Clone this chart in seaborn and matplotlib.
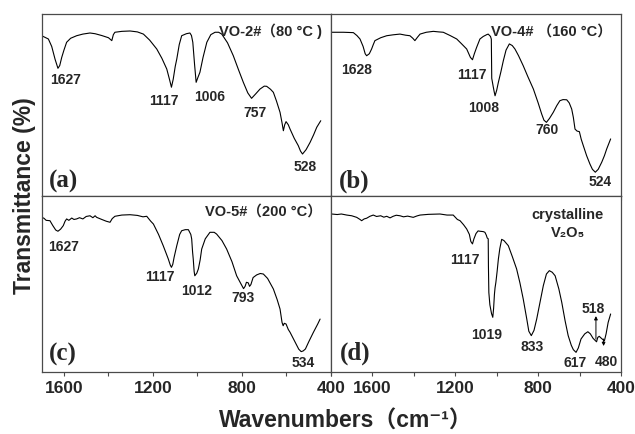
import matplotlib
matplotlib.use("Agg")
import matplotlib.pyplot as plt
import pandas as pd
import seaborn as sns

# ---------------- FTIR spectra (wavenumber in cm-1, transmittance in a.u.) ----------------
wn_a = [1700, 1685, 1670, 1655, 1640, 1627, 1619, 1610, 1600, 1588, 1570, 1543, 1515, 1483,
        1460, 1430, 1400, 1385, 1378, 1371, 1340, 1303, 1270, 1243, 1215, 1183, 1160, 1138,
        1126, 1117, 1109, 1100, 1093, 1082, 1071, 1050, 1034, 1027, 1021, 1013, 1006, 998,
        989, 975, 958, 940, 921, 905, 891, 865, 839, 815, 794, 774, 757, 738, 719, 700, 689,
        672, 659, 645, 629, 620, 614, 608, 602, 592, 584, 565, 547, 537, 528, 512, 494, 478,
        464, 446]
t_a = [87.9, 87.0, 86.1, 82.0, 75.0, 70.0, 71.5, 76.0, 80.0, 84.3, 86.5, 87.9, 88.8, 89.4,
       89.0, 88.0, 86.8, 85.2, 88.5, 89.8, 90.3, 90.5, 90.0, 88.8, 85.5, 80.6, 75.5, 69.6,
       64.0, 59.6, 64.0, 71.0, 75.1, 83.0, 87.9, 89.0, 89.4, 88.0, 84.3, 72.0, 62.3, 65.0,
       67.8, 76.0, 84.3, 88.5, 89.8, 89.8, 88.8, 84.0, 76.9, 69.0, 62.3, 56.5, 53.5, 56.0,
       58.6, 60.2, 60.1, 58.5, 56.8, 52.0, 45.8, 40.0, 35.7, 39.0, 40.7, 39.0, 36.6, 31.5,
       27.5, 24.5, 22.9, 25.3, 29.3, 33.5, 37.6, 41.2]

wn_b = [1797, 1740, 1692, 1675, 1660, 1645, 1635, 1628, 1615, 1604, 1596, 1588, 1560, 1531,
        1500, 1467, 1440, 1419, 1405, 1395, 1383, 1370, 1340, 1306, 1280, 1258, 1225, 1193,
        1170, 1145, 1127, 1117, 1108, 1097, 1081, 1065, 1048, 1041, 1030, 1026, 1024, 1017,
        1012, 1008, 1000, 992, 980, 968, 955, 939, 925, 912, 895, 872, 850, 823, 800, 783,
        772, 760, 745, 727, 710, 695, 680, 662, 650, 638, 630, 622, 612, 601, 592, 582, 566,
        550, 538, 524, 510, 493, 480, 469, 450]
t_b = [89.8, 89.8, 89.6, 88.0, 86.1, 82.0, 78.0, 76.9, 78.0, 80.6, 83.0, 85.2, 86.8, 87.9,
       88.4, 88.8, 88.2, 87.9, 86.5, 85.2, 87.0, 88.8, 89.8, 90.3, 90.0, 89.8, 88.0, 86.1,
       83.5, 80.6, 76.0, 74.7, 78.0, 81.5, 86.1, 87.5, 88.5, 88.8, 87.5, 86.0, 64.5, 60.0,
       57.0, 54.9, 58.0, 62.3, 68.0, 74.2, 80.0, 83.4, 82.5, 80.6, 77.0, 71.4, 65.5, 58.6,
       51.0, 44.9, 41.5, 40.3, 42.5, 45.8, 49.5, 52.2, 52.8, 52.7, 51.0, 47.6, 43.0, 36.6,
       35.5, 35.2, 31.0, 27.5, 22.0, 17.4, 14.5, 12.9, 14.5, 18.4, 22.0, 25.7, 31.2]

wn_c = [1700, 1690, 1680, 1663, 1650, 1637, 1627, 1615, 1603, 1595, 1588, 1578, 1565, 1555,
        1543, 1530, 1515, 1500, 1483, 1470, 1460, 1453, 1430, 1410, 1393, 1383, 1371, 1340,
        1303, 1270, 1245, 1228, 1210, 1198, 1175, 1154, 1140, 1131, 1122, 1117, 1111, 1105,
        1093, 1080, 1071, 1055, 1041, 1030, 1026, 1022, 1019, 1015, 1012, 1003, 996, 988,
        981, 965, 944, 925, 914, 890, 869, 845, 824, 805, 793, 786, 780, 772, 766, 760, 750,
        734, 718, 704, 685, 659, 642, 629, 620, 615, 610, 602, 592, 584, 560, 545, 534, 525,
        515, 500, 479, 460, 449]
t_c = [87.7, 87.2, 86.0, 85.8, 83.0, 80.5, 79.8, 81.0, 83.0, 85.5, 86.8, 86.0, 87.3, 86.5,
       86.8, 87.5, 86.8, 88.2, 88.6, 87.5, 88.6, 87.7, 86.5, 85.5, 84.9, 87.0, 88.3, 89.0,
       89.2, 88.8, 88.0, 88.3, 85.5, 83.9, 78.0, 71.6, 67.0, 64.0, 60.5, 59.3, 61.0, 65.0,
       71.6, 78.0, 80.1, 80.7, 80.7, 78.0, 75.4, 68.0, 64.0, 57.0, 54.5, 56.0, 58.4, 63.5,
       69.7, 75.5, 79.2, 79.2, 78.2, 74.5, 69.7, 62.5, 54.5, 50.0, 47.2, 48.5, 50.8, 50.5,
       48.5, 49.5, 53.5, 55.0, 55.8, 55.5, 53.0, 47.0, 41.0, 35.6, 28.0, 26.1, 27.5, 27.1,
       24.0, 22.4, 16.5, 12.8, 11.4, 11.8, 12.9, 17.0, 22.4, 27.0, 29.9]

wn_d = [1797, 1770, 1750, 1724, 1700, 1676, 1660, 1652, 1640, 1628, 1612, 1596, 1580, 1560,
        1545, 1531, 1515, 1500, 1485, 1467, 1450, 1430, 1403, 1385, 1370, 1330, 1274, 1240,
        1210, 1190, 1177, 1160, 1145, 1132, 1125, 1117, 1110, 1100, 1090, 1081, 1065, 1057,
        1050, 1046, 1041, 1040, 1038, 1033, 1025, 1019, 1015, 1011, 1008, 1004, 998, 992,
        985, 976, 965, 944, 925, 904, 888, 872, 855, 845, 833, 820, 807, 790, 775, 760, 746,
        732, 718, 700, 686, 670, 655, 640, 630, 617, 606, 593, 575, 560, 548, 535, 525, 518,
        512, 505, 495, 487, 480, 472, 462, 450]
t_d = [89.6, 89.3, 89.6, 89.0, 88.6, 87.7, 86.5, 85.8, 86.8, 87.2, 88.3, 89.0, 88.2, 88.6,
       87.8, 88.3, 87.4, 88.3, 88.9, 88.6, 88.0, 88.4, 87.7, 88.5, 89.0, 89.4, 89.6, 89.0,
       89.0, 86.5, 85.8, 83.5, 81.1, 78.0, 74.0, 72.6, 75.5, 78.5, 80.0, 79.8, 79.6, 79.2,
       77.5, 76.0, 75.5, 60.0, 45.0, 38.0, 33.0, 30.9, 36.0, 44.0, 47.7, 50.8, 57.0, 64.0,
       70.0, 75.2, 74.5, 71.6, 65.5, 58.4, 50.5, 41.3, 30.0, 23.0, 20.5, 23.5, 29.9, 40.0,
       48.9, 55.5, 57.4, 56.5, 54.5, 47.0, 39.4, 29.0, 20.5, 15.0, 12.5, 11.0, 13.5, 18.6,
       21.5, 22.7, 21.5, 19.0, 17.8, 17.0, 19.5, 20.1, 19.0, 18.2, 17.6, 21.5, 28.0, 32.8]

# labelled band positions (cm-1)
peaks_a = [1627, 1117, 1006, 757, 528]
peaks_b = [1628, 1117, 1008, 760, 524]
peaks_c = [1627, 1117, 1012, 793, 534]
peaks_d = [1117, 1019, 833, 617, 518, 480]

titles = ["VO-2#（80 °C )", "VO-4# （160 °C）", "VO-5#（200 °C）", "crystalline\nV₂O₅"]
letters = ["(a)", "(b)", "(c)", "(d)"]
xticks_major = [1600, 1200, 800, 400]

# ---------------- layout ----------------
W, H = 635, 435
left_x0, left_x1, right_x1 = 41.7, 331.0, 621.0
top_y0, mid_y, bot_y1 = 14.7, 196.7, 372.7

panels = [
    dict(wn=wn_a, t=t_a, peaks=peaks_a, xlim=(1700, 400),
         rect=(left_x0, top_y0, left_x1, mid_y), minor=[1400, 1000, 600],
         lab=[(1592, 64.1), (1153, 52.7), (944, 54.9), (741, 46.2), (517, 16.5)],
         title_xy=(442, 90.7), title_ha="right", letter_xy=(1668, 8.6), ticklabels=False),
    dict(wn=wn_b, t=t_b, peaks=peaks_b, xlim=(1800, 400),
         rect=(left_x1, top_y0, right_x1, mid_y), minor=[1800, 1400, 1000, 600],
         lab=[(1676, 69.6), (1121, 66.9), (1065, 48.6), (759, 36.6), (502, 8.2)],
         title_xy=(445, 90.7), title_ha="right", letter_xy=(1760, 8.6), ticklabels=False),
    dict(wn=wn_c, t=t_c, peaks=peaks_c, xlim=(1700, 400),
         rect=(left_x0, mid_y, left_x1, bot_y1), minor=[1400, 1000, 600],
         lab=[(1603, 71.6), (1168, 54.5), (1003, 46.6), (794, 42.6), (524, 5.3)],
         title_xy=(442, 91.3), title_ha="right", letter_xy=(1666, 10.6), ticklabels=True),
    dict(wn=wn_d, t=t_d, peaks=peaks_d, xlim=(1800, 400),
         rect=(left_x1, mid_y, right_x1, bot_y1), minor=[1800, 1400, 1000, 600],
         lab=[(1153, 64.0), (1048, 21.4), (831, 14.8), (622, 5.3), (534, 36.0), (473, 6.3)],
         title_xy=(656, 84.5), title_ha="center", letter_xy=(1758, 11.0), ticklabels=True),
]

sns.set_style("white")
plt.rcParams["font.family"] = ["Liberation Sans", "Noto Sans CJK SC", "DejaVu Sans"]
plt.rcParams["font.weight"] = "bold"

frame_col = "#4a4a4a"
fig = plt.figure(figsize=(W / 100, H / 100), dpi=100)

for i, p in enumerate(panels):
    x0, y0, x1, y1 = p["rect"]
    ax = fig.add_axes([x0 / W, 1 - y1 / H, (x1 - x0) / W, (y1 - y0) / H])
    df = pd.DataFrame({"wavenumber": p["wn"], "transmittance": p["t"]})
    sns.lineplot(data=df, x="wavenumber", y="transmittance", ax=ax, color="black",
                 lw=0.8, sort=False, estimator=None)
    ax.set_xlim(*p["xlim"])
    ax.set_ylim(0, 100)
    ax.set_xlabel("")
    ax.set_ylabel("")
    ax.set_yticks([])
    ax.set_xticks(xticks_major)
    ax.set_xticks(p["minor"], minor=True)
    ax.tick_params(axis="x", which="both", direction="out", length=3, width=0.8,
                   color=frame_col, bottom=True, labelsize=12.5, pad=3,
                   labelbottom=p["ticklabels"])
    if p["ticklabels"]:
        ax.set_xticklabels([str(v) for v in xticks_major], fontweight="bold")
    for s in ax.spines.values():
        s.set_visible(True)
        s.set_color(frame_col)
        s.set_linewidth(0.9)

    for pk, (lx, ly) in zip(p["peaks"], p["lab"]):
        ax.text(lx, ly, str(pk), ha="center", va="center", fontsize=10, fontweight="bold")

    ax.text(*p["title_xy"], titles[i], ha=p["title_ha"], va="center", fontsize=10.5,
            fontweight="bold", linespacing=1.45)
    ax.text(*p["letter_xy"], letters[i], ha="left", va="center", fontsize=18,
            fontweight="bold", family=["Liberation Serif", "DejaVu Serif"])

    if i == 3:
        # arrows tying the 518 / 480 labels to their weak bands
        ax.annotate("", xy=(521, 31.6), xytext=(521, 18.5),
                    arrowprops=dict(arrowstyle="-|>", color="black", lw=0.7,
                                    mutation_scale=5, shrinkA=0, shrinkB=0))
        ax.annotate("", xy=(484, 14.6), xytext=(484, 18.6),
                    arrowprops=dict(arrowstyle="-|>", color="black", lw=0.7,
                                    mutation_scale=5, shrinkA=0, shrinkB=0))

fig.text(25 / W, 1 - 196 / H, "Transmittance (%)", rotation=90, ha="center", va="center",
         fontsize=16.5, fontweight="bold")
fig.text(346 / W, 1 - 421 / H, "Wavenumbers（cm⁻¹）", ha="center", va="center",
         fontsize=16.5, fontweight="bold")

fig.savefig("out.png", dpi=100)
